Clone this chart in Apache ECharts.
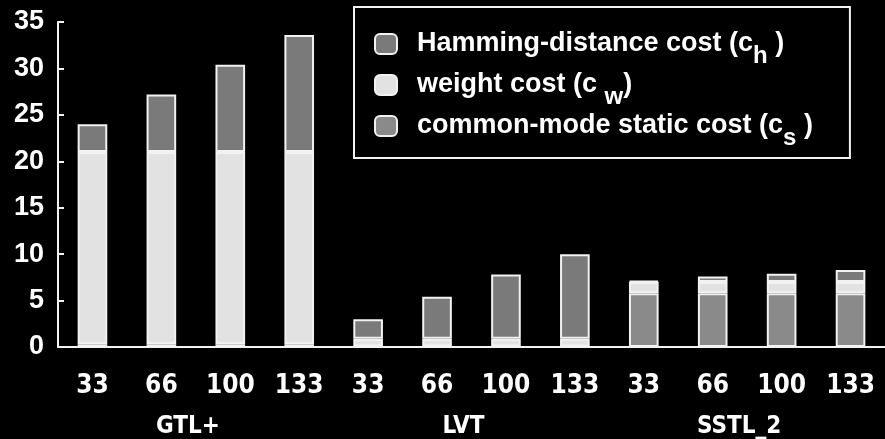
<!DOCTYPE html>
<html>
<head>
<meta charset="utf-8">
<script src="https://cdn.jsdelivr.net/npm/echarts@6/dist/echarts.min.js"></script>
<style>
  html, body { margin: 0; padding: 0; background: #000; }
  #chart { width: 885px; height: 439px; }
</style>
</head>
<body>
<div id="chart"></div>
<script>
// Bus clock frequencies (MHz) for each I/O standard
const categories = ['33', '66', '100', '133', '33', '66', '100', '133', '33', '66', '100', '133'];
const groups = ['GTL+', 'LVT', 'SSTL_2'];

// Cost components per configuration, stacked bottom to top
const staticCost  = [0.3, 0.3, 0.3, 0.3, 0.05, 0.05, 0.05, 0.05, 5.8, 5.8, 5.8, 5.8];
const weightCost  = [20.7, 20.7, 20.7, 20.7, 0.85, 0.85, 0.85, 0.85, 1.2, 1.2, 1.2, 1.2];
const hammingCost = [3.0, 6.2, 9.4, 12.6, 2.1, 4.5, 6.9, 9.1, 0.1, 0.6, 0.9, 1.3];

const yTicks = { min: 0, max: 35, interval: 5 };

const FONT = 'Liberation Sans, Arial, sans-serif';
const NARROW = '"Liberation Sans Narrow", "DejaVu Sans Condensed", "Liberation Sans", sans-serif';

const chart = echarts.init(document.getElementById('chart'));

const segment = (name, data, color) => ({
  name,
  type: 'bar',
  stack: 'cost',
  data,
  barWidth: '43%',
  itemStyle: { color, borderColor: '#f2f2f2', borderWidth: 2 }
});

chart.setOption({
  backgroundColor: '#000',
  animation: false,
  grid: { left: 58, right: -6, top: 22, bottom: 91 },
  legend: {
    orient: 'vertical',
    left: 354,
    top: 7,
    padding: [13, 37, 8, 20],
    itemWidth: 22,
    itemHeight: 20,
    itemGap: -7,
    borderColor: '#f2f2f2',
    borderWidth: 2,
    data: ['ch', 'cw', 'cs'],
    formatter: name => ({
      ch: 'Hamming-distance cost (c{sub|h} )',
      cw: 'weight cost (c {sub|w})',
      cs: 'common-mode static cost (c{sub|s} )'
    })[name],
    textStyle: {
      color: '#fff',
      fontFamily: FONT,
      fontWeight: 'bold',
      fontSize: 27,
      lineHeight: 28,
      padding: [0, 0, 0, 15],
      rich: {
        sub: { color: '#fff', fontFamily: FONT, fontWeight: 'bold', fontSize: 24, lineHeight: 28, padding: [24, 0, 0, 0] }
      }
    }
  },
  xAxis: [
    {
      type: 'category',
      data: categories,
      axisLine: { lineStyle: { color: '#f2f2f2', width: 2 } },
      axisTick: { inside: true, length: 6, lineStyle: { color: '#f2f2f2', width: 2 } },
      axisLabel: { color: '#fff', fontFamily: NARROW, fontWeight: 'bold', fontSize: 26, margin: 26 }
    },
    {
      type: 'category',
      data: groups,
      position: 'bottom',
      offset: 60,
      axisLine: { show: false },
      axisTick: { show: false },
      axisLabel: { color: '#fff', fontFamily: NARROW, fontWeight: 'bold', fontSize: 24, margin: 8, padding: [0, 16, 0, 0] }
    }
  ],
  yAxis: {
    type: 'value',
    min: yTicks.min,
    max: yTicks.max,
    interval: yTicks.interval,
    splitLine: { show: false },
    axisLine: { show: true, lineStyle: { color: '#f2f2f2', width: 2 } },
    axisTick: { show: true, inside: true, length: 6, lineStyle: { color: '#f2f2f2', width: 2 } },
    axisLabel: { color: '#fff', fontFamily: FONT, fontWeight: 'bold', fontSize: 27, margin: 14 }
  },
  series: [
    segment('cs', staticCost, '#8a8a8a'),
    segment('cw', weightCost, '#e2e2e2'),
    segment('ch', hammingCost, '#7a7a7a')
  ]
});
</script>
</body>
</html>
